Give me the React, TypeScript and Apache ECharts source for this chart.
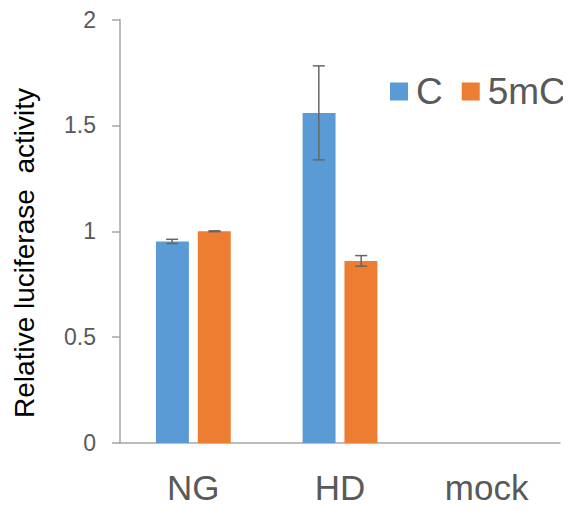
import React, { useEffect, useRef } from "react";
import * as echarts from "echarts";

const categories = ["NG", "HD", "mock"];
const seriesNames = ["C", "5mC"];
const valuesC: (number | string)[] = [0.952, 1.559, "-"];
const values5mC: (number | string)[] = [1.0, 0.86, "-"];
const errC: (number | null)[] = [0.01, 0.222, null];
const err5mC: (number | null)[] = [0.002, 0.025, null];
const yTicks = { min: 0, max: 2, interval: 0.5 };
const yAxisTitle = "Relative luciferase  activity";

const colors = ["#5B9BD5", "#ED7D31"];
const FONT = "'Liberation Sans', Arial, sans-serif";
const TEXT = "#595959";
const AXIS = "#a6a6a6";

function errorData(values: (number | string)[], errs: (number | null)[]) {
  const out: any[] = [];
  values.forEach((v, i) => {
    const e = errs[i];
    if (typeof v === "number" && e != null) out.push([i, v, v - e, v + e]);
  });
  return out;
}

function errorSeries(data: any[], sign: number) {
  return {
    type: "custom",
    silent: true,
    z: 5,
    data,
    encode: { x: 0, y: [2, 3] },
    renderItem: (params: any, api: any) => {
      const idx = api.value(0);
      const lo = api.coord([idx, api.value(2)]);
      const hi = api.coord([idx, api.value(3)]);
      const band = api.size([1, 0])[0];
      const x = lo[0] + sign * band * 0.1445;
      const cap = 6;
      const style = { stroke: "#666666", lineWidth: 1.5 };
      return {
        type: "group",
        children: [
          { type: "line", shape: { x1: x, y1: lo[1], x2: x, y2: hi[1] }, style },
          { type: "line", shape: { x1: x - cap, y1: lo[1], x2: x + cap, y2: lo[1] }, style },
          { type: "line", shape: { x1: x - cap, y1: hi[1], x2: x + cap, y2: hi[1] }, style },
        ],
      };
    },
  };
}

export default function App() {
  const ref = useRef<HTMLDivElement>(null);
  useEffect(() => {
    if (!ref.current) return;
    const chart = echarts.init(ref.current, undefined, { renderer: "svg" });
    chart.setOption({
      animation: false,
      color: colors,
      textStyle: { fontFamily: FONT },
      grid: { left: 120, right: 11, top: 19.5, bottom: 67, containLabel: false },
      legend: {
        data: seriesNames,
        left: 390,
        top: 73,
        width: 180,
        padding: 0,
        icon: "rect",
        itemWidth: 18,
        itemHeight: 18,
        itemGap: 19,
        textStyle: { fontSize: 37, color: TEXT, fontFamily: FONT, padding: [0, 0, 0, 3] },
      },
      graphic: [
        {
          type: "text",
          x: 24,
          y: 253,
          rotation: Math.PI / 2,
          style: {
            text: yAxisTitle,
            font: `28px ${FONT}`,
            fill: "#000",
            textAlign: "center",
            textVerticalAlign: "middle",
          },
        },
      ],
      xAxis: {
        type: "category",
        data: categories,
        axisLine: { lineStyle: { color: AXIS, width: 1.5 } },
        axisTick: { show: false },
        axisLabel: { fontSize: 35, color: TEXT, margin: 27, fontFamily: FONT },
      },
      yAxis: {
        type: "value",
        min: yTicks.min,
        max: yTicks.max,
        interval: yTicks.interval,
        axisLine: { show: true, lineStyle: { color: AXIS, width: 1.5 } },
        axisTick: { show: true, length: 8, lineStyle: { color: AXIS, width: 1.5 } },
        splitLine: { show: false },
        axisLabel: { fontSize: 23, color: TEXT, margin: 24, fontFamily: FONT },
      },
      series: [
        {
          name: seriesNames[0],
          type: "bar",
          data: valuesC,
          barGap: "27%",
          barCategoryGap: "49%",
          itemStyle: { color: colors[0] },
        },
        {
          name: seriesNames[1],
          type: "bar",
          data: values5mC,
          barGap: "27%",
          barCategoryGap: "49%",
          itemStyle: { color: colors[1] },
        },
        errorSeries(errorData(valuesC, errC), -1),
        errorSeries(errorData(values5mC, err5mC), 1),
      ],
    });
    return () => chart.dispose();
  }, []);
  return <div ref={ref} style={{ width: 571, height: 510, margin: -8 }} />;
}
